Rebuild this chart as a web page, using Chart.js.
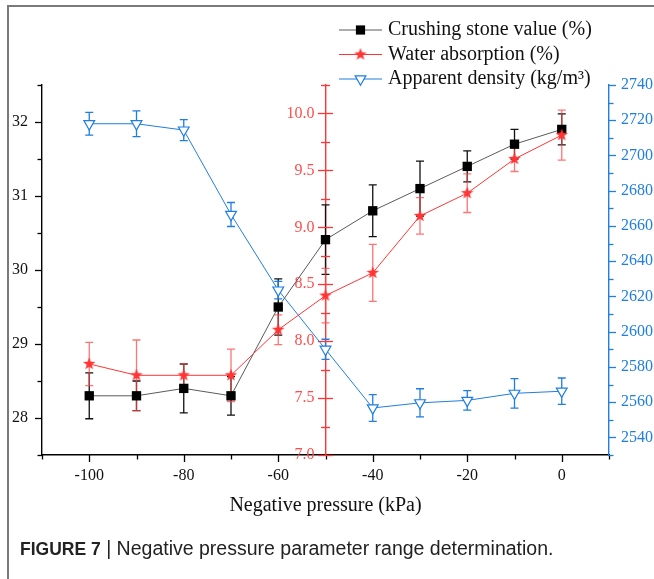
<!DOCTYPE html>
<html><head><meta charset="utf-8">
<script src="https://cdn.jsdelivr.net/npm/chart.js@4.4.1/dist/chart.umd.min.js"></script>
<style>
html,body{margin:0;padding:0;background:#fff;}
#wrap{position:relative;width:654px;height:579px;overflow:hidden;background:#fff;}
#frame{position:absolute;left:7px;top:5px;width:700px;height:640px;border-left:2px solid #7a7a7a;border-top:2px solid #7a7a7a;}
canvas{position:absolute;left:0;top:0;}
#caption{position:absolute;left:20px;top:537px;font-family:"Liberation Sans Narrow","Liberation Sans",Arial,sans-serif;font-size:19.5px;color:#222;white-space:nowrap;}
#caption b{font-size:17.5px;}
</style></head>
<body><div id="wrap"><div id="frame"></div><canvas id="c" width="654" height="579"></canvas><div id="caption"><b>FIGURE 7</b> | Negative pressure parameter range determination.</div></div>
<script>
// ---- data ----
const pressure = [-100, -90, -80, -70, -60, -50, -40, -30, -20, -10, 0];
const crushingValue = [28.3, 28.3, 28.4, 28.3, 29.5, 30.41, 30.8, 31.1, 31.4, 31.7, 31.9];
const crushingErr   = [0.31, 0.2, 0.33, 0.26, 0.38, 0.47, 0.35, 0.37, 0.21, 0.2, 0.21];
const waterAbsorption = [7.8, 7.7, 7.7, 7.7, 8.1, 8.4, 8.6, 9.1, 9.3, 9.6, 9.81];
const waterErr        = [0.19, 0.31, 0.1, 0.23, 0.13, 0.24, 0.25, 0.16, 0.17, 0.11, 0.22];
const apparentDensity = [2718, 2718, 2714.4, 2666.5, 2623.6, 2590, 2556.7, 2559.6, 2561, 2565, 2566.2];
const densityErr      = [6.5, 7.3, 6, 6.8, 5, 5.7, 7.6, 8, 5.5, 8.4, 7.5];
const seriesNames = ['Crushing stone value (%)', 'Water absorption (%)', 'Apparent density (kg/m\u00B3)'];
const xTitle = 'Negative pressure (kPa)';

const BLACK = '#000000', BLACKLINE = '#5a5a5a';
const RED = '#ff3535', REDERR = 'rgba(255,70,70,0.75)', REDLABEL = '#ff4d4d';
const BLUE = '#1f7ee0';
const SERIF = '"Liberation Serif","Times New Roman",serif';

function makeStar(color, R, r) {
  const size = Math.ceil(R * 2 + 2);
  const c = document.createElement('canvas');
  c.width = c.height = size;
  const g = c.getContext('2d');
  g.fillStyle = color;
  g.beginPath();
  for (let i = 0; i < 10; i++) {
    const a = -Math.PI / 2 + i * Math.PI / 5;
    const rad = i % 2 ? r : R;
    g.lineTo(size / 2 + rad * Math.cos(a), size / 2 + rad * Math.sin(a));
  }
  g.closePath(); g.fill();
  return c;
}
const starImg = makeStar(RED, 6.6, 2.7);

const toPts = (vals) => pressure.map((x, i) => ({x: x, y: vals[i]}));

const datasets = [
  {label: seriesNames[0], data: toPts(crushingValue), err: crushingErr, errColor: '#111',
   yAxisID: 'y', borderColor: BLACKLINE, borderWidth: 1, backgroundColor: BLACK,
   pointStyle: 'rect', pointRadius: 6.6, pointBorderColor: BLACK, pointBackgroundColor: BLACK, pointBorderWidth: 0, order: 1},
  {label: seriesNames[1], data: toPts(waterAbsorption), err: waterErr, errColor: REDERR,
   yAxisID: 'y2', borderColor: RED, borderWidth: 1, backgroundColor: RED,
   pointStyle: starImg, pointRadius: 7, order: 0},
  {label: seriesNames[2], data: toPts(apparentDensity), err: densityErr, errColor: BLUE,
   yAxisID: 'y3', borderColor: BLUE, borderWidth: 1, backgroundColor: '#fff',
   pointStyle: 'triangle', pointRotation: 180, pointRadius: 6.2, pointBorderColor: BLUE, pointBackgroundColor: '#fff', pointBorderWidth: 1.2, order: 2}
];

const errBars = {
  id: 'errBars',
  beforeDatasetsDraw(chart) {
    const ctx = chart.ctx, xs = chart.scales.x;
    chart.data.datasets.forEach((ds) => {
      const ys = chart.scales[ds.yAxisID];
      ctx.save();
      ctx.strokeStyle = ds.errColor; ctx.lineWidth = 1.3;
      ds.data.forEach((p, j) => {
        const e = ds.err[j];
        const x = xs.getPixelForValue(p.x);
        const y1 = ys.getPixelForValue(p.y + e), y2 = ys.getPixelForValue(p.y - e);
        ctx.beginPath();
        ctx.moveTo(x, y1); ctx.lineTo(x, y2);
        ctx.moveTo(x - 4, y1); ctx.lineTo(x + 4, y1);
        ctx.moveTo(x - 4, y2); ctx.lineTo(x + 4, y2);
        ctx.stroke();
      });
      ctx.restore();
    });
  }
};

const tickMarks = {
  id: 'tickMarks',
  beforeDatasetsDraw(chart) {
    const ctx = chart.ctx, ca = chart.chartArea;
    const isMul = (v, m) => Math.abs(v / m - Math.round(v / m)) < 1e-6;
    ctx.save();
    ctx.lineWidth = 1.3;
    // x axis
    const xs = chart.scales.x;
    ctx.strokeStyle = '#000';
    xs.ticks.forEach(t => {
      const px = Math.round(xs.getPixelForValue(t.value)) + 0.5;
      const L = isMul(t.value, 20) ? 7 : 4.5;
      ctx.beginPath(); ctx.moveTo(px, ca.bottom); ctx.lineTo(px, ca.bottom + L); ctx.stroke();
    });
    // left axis
    const y = chart.scales.y;
    y.ticks.forEach(t => {
      const py = Math.round(y.getPixelForValue(t.value)) + 0.5;
      const L = isMul(t.value, 1) ? 7 : 4.5;
      ctx.beginPath(); ctx.moveTo(ca.left, py); ctx.lineTo(ca.left - L, py); ctx.stroke();
    });
    // middle red axis: tick marks and labels
    const y2 = chart.scales.y2;
    const ax = xs.getPixelForValue(-50);
    ctx.strokeStyle = RED;
    ctx.fillStyle = REDLABEL;
    ctx.font = '16px ' + SERIF;
    ctx.textAlign = 'right'; ctx.textBaseline = 'middle';
    y2.ticks.forEach(t => {
      const yv = y2.getPixelForValue(t.value);
      const py = Math.round(yv) + 0.5;
      const L = isMul(t.value, 0.5) ? 7.5 : 4.5;
      ctx.beginPath(); ctx.moveTo(ax - L, py); ctx.lineTo(ax + L, py); ctx.stroke();
      if (t.label) ctx.fillText(t.label, ax - 11, yv);
    });
    // right blue axis
    const y3 = chart.scales.y3;
    ctx.strokeStyle = BLUE;
    y3.ticks.forEach(t => {
      const py = Math.round(y3.getPixelForValue(t.value)) + 0.5;
      const L = isMul(t.value, 20) ? 7 : 4.5;
      ctx.beginPath(); ctx.moveTo(ca.right, py); ctx.lineTo(ca.right + L, py); ctx.stroke();
    });
    ctx.restore();
  }
};

const legendBox = {
  id: 'legendBox',
  afterDraw(chart) {
    const ctx = chart.ctx;
    const rows = [30, 54.5, 79];
    const x0 = 339, x1 = 382, xm = 360.5, xt = 388;
    ctx.save();
    chart.data.datasets.forEach((ds, i) => {
      const yy = rows[i];
      ctx.strokeStyle = ds.borderColor; ctx.lineWidth = 1;
      ctx.beginPath(); ctx.moveTo(x0, yy); ctx.lineTo(x1, yy); ctx.stroke();
      if (i === 0) {
        ctx.fillStyle = BLACK; ctx.fillRect(xm - 4.6, yy - 4.6, 9.2, 9.2);
      } else if (i === 1) {
        ctx.drawImage(starImg, xm - starImg.width / 2, yy - starImg.height / 2);
      } else {
        const r = 6.2;
        ctx.beginPath();
        ctx.moveTo(xm, yy + r);
        ctx.lineTo(xm + r * Math.sin(Math.PI * 2 / 3), yy - r * 0.5);
        ctx.lineTo(xm - r * Math.sin(Math.PI * 2 / 3), yy - r * 0.5);
        ctx.closePath();
        ctx.fillStyle = '#fff'; ctx.fill();
        ctx.strokeStyle = BLUE; ctx.lineWidth = 1.2; ctx.stroke();
      }
      ctx.fillStyle = '#111';
      ctx.font = '20px ' + SERIF;
      ctx.textBaseline = 'middle'; ctx.textAlign = 'left';
      ctx.fillText(ds.label, xt, yy);
    });
    ctx.restore();
  }
};

const tickFont = {family: SERIF, size: 16};

new Chart(document.getElementById('c'), {
  type: 'line',
  data: {datasets: datasets},
  options: {
    responsive: false,
    animation: false,
    layout: {padding: {top: 85, bottom: 59, left: 0, right: 0}},
    plugins: {legend: {display: false}, tooltip: {enabled: false}},
    elements: {line: {tension: 0}},
    scales: {
      x: {
        type: 'linear', position: 'bottom', min: -110, max: 10,
        afterFit: (s) => { s.height = 65; },
        grid: {display: false, drawTicks: false},
        border: {display: true, color: '#000', width: 1.4},
        ticks: {stepSize: 10, autoSkip: false, maxRotation: 0, padding: 11, color: '#111', font: tickFont,
                callback: (v) => (Math.abs(v % 20) < 1e-6 && v >= -100 && v <= 0) ? String(v) : ''},
        title: {display: true, text: xTitle, color: '#111', font: {family: SERIF, size: 20}, padding: {top: 0, bottom: 2}}
      },
      y: {
        type: 'linear', position: 'left', min: 27.5, max: 32.5,
        afterFit: (s) => { s.width = 42; },
        grid: {display: false, drawTicks: false},
        border: {display: true, color: '#000', width: 1.4},
        ticks: {stepSize: 0.5, autoSkip: false, padding: 14, color: '#111', font: tickFont,
                callback: (v) => Number.isInteger(v) ? String(v) : ''}
      },
      y2: {
        type: 'linear', position: {x: -50}, min: 7, max: 10.25,
        grid: {display: false, drawTicks: false},
        border: {display: true, color: RED, width: 1.4},
        ticks: {display: false, stepSize: 0.25, autoSkip: false, font: tickFont,
                callback: (v) => Math.abs(v * 2 - Math.round(v * 2)) < 1e-6 ? v.toFixed(1) : ''}
      },
      y3: {
        type: 'linear', position: 'right', min: 2530, max: 2740,
        afterFit: (s) => { s.width = 45; },
        grid: {display: false, drawTicks: false},
        border: {display: true, color: BLUE, width: 1.4},
        ticks: {stepSize: 10, autoSkip: false, padding: 12, color: BLUE, font: tickFont,
                callback: (v) => Math.abs(v % 20) < 1e-6 ? String(v) : ''}
      }
    }
  },
  plugins: [errBars, tickMarks, legendBox]
});
</script>
</body></html>
